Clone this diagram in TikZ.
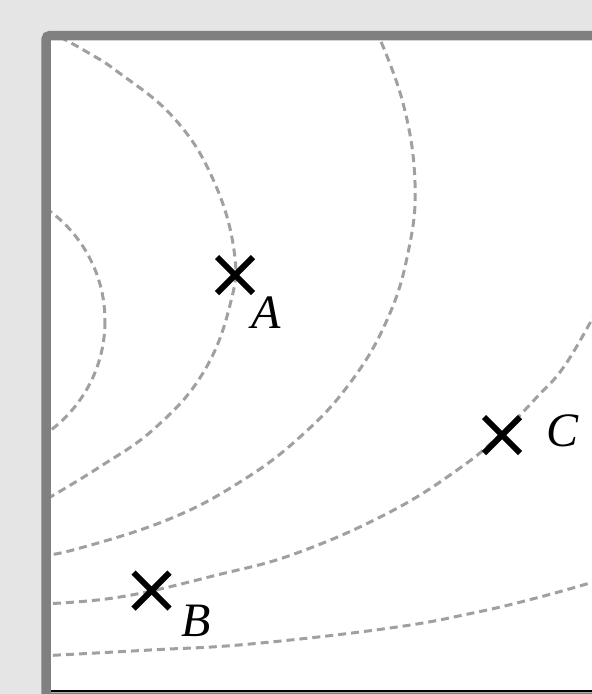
\documentclass[tikz,border=0pt]{standalone}
\usepackage{fontspec}
\setmainfont{Liberation Serif}
\usetikzlibrary{shapes.misc}
\definecolor{bggray}{HTML}{E5E5E5}
\definecolor{framegray}{HTML}{808080}
\definecolor{lvlgray}{HTML}{A0A0A0}
\begin{document}
\begin{tikzpicture}[x=1pt,y=-1pt,
  level/.style={draw=lvlgray, line width=3pt, dash pattern=on 8pt off 5pt},
  xmark/.style={draw, cross out, line width=6pt, minimum size=30pt, inner sep=0pt},
  lbl/.style={font=\fontsize{48}{52}\selectfont\itshape, inner sep=0pt}]
\useasboundingbox (0,0) rectangle (592,694);
\begin{scope}
\clip (0,0) rectangle (592,694);
\fill[bggray] (0,0) rectangle (592,694);
\fill[white] (46,35.5) rectangle (610,697);
\begin{scope}
\clip (51,40) rectangle (592,690);
\draw[level] (-32,321) circle[radius=137];
\draw[level] plot[smooth, tension=0.7] coordinates {(60,37) (87,52) (118,72) (173,117) (212,177) (234,250) (230,305) (203,373) (155,428) (98,468) (45,500)};
\draw[level] plot[smooth, tension=0.7] coordinates {(376,30) (403,103) (415,183) (408,253) (387,320) (350,383) (300,437) (240,482) (167,520) (73,550) (40,555)};
\draw[level] plot[smooth, tension=0.7] coordinates {(40,604) (120,597) (217,575) (297,553) (390,512) (460,468) (502,433) (537,397) (563,368) (590,323) (600,303)};
\draw[level] plot[smooth, tension=0.7] coordinates {(40,656) (150,650) (250,644) (390,628) (473,613) (540,597) (600,580)};
\end{scope}
\draw[framegray, line width=9.5pt, rounded corners=4pt] (46,35.5) rectangle (610,697);
\draw[black, line width=2pt] (51,690.5) -- (600,690.5);
\node[xmark] (A) at (235,275) {};
\node[xmark] (B) at (151.5,590.5) {};
\node[xmark] (C) at (502,435) {};
\node[lbl] (Alabel) at (266,313) {A};
\node[lbl] (Blabel) at (196,621) {B};
\node[lbl] (Clabel) at (563,431) {C};
\end{scope}
\end{tikzpicture}
\end{document}
